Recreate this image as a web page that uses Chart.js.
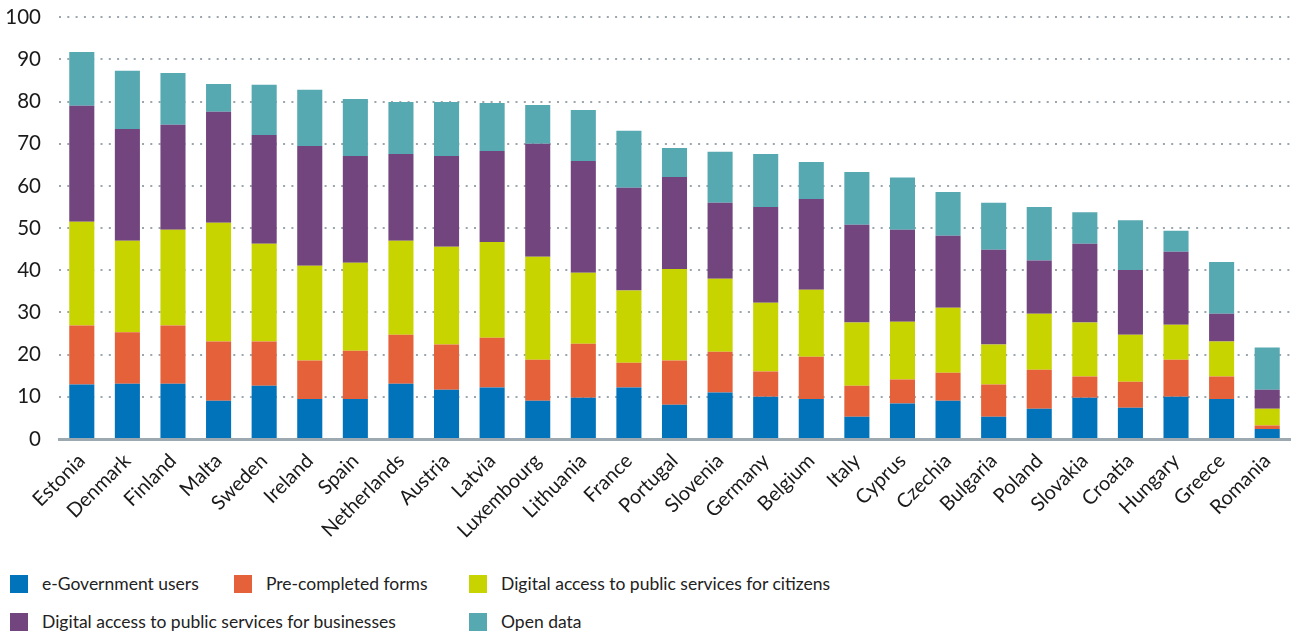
<!DOCTYPE html>
<html>
<head>
<meta charset="utf-8">
<script src="https://cdn.jsdelivr.net/npm/chart.js@4.4.0/dist/chart.umd.min.js"></script>
<style>
    html, body { margin: 0; padding: 0; background: #ffffff; }
    body { width: 1293px; height: 634px; position: relative; overflow: hidden; font-family: Lato, sans-serif; }
    #chart-wrap { position: absolute; left: 0; top: -13px; width: 1293px; height: 565px; }
    #legend { position: absolute; left: 0; top: 573px; width: 1293px; }
    .legend-item { position: absolute; display: flex; align-items: center; font-size: 17.5px; color: #222; white-space: nowrap; }
    .legend-box { width: 18px; height: 18px; margin-right: 14px; }
</style>
</head>
<body>
<div id="chart-wrap"><canvas id="egov-chart"></canvas></div>
<div id="legend"></div>
<script>
const countries = ['Estonia', 'Denmark', 'Finland', 'Malta', 'Sweden', 'Ireland', 'Spain', 'Netherlands', 'Austria',
    'Latvia', 'Luxembourg', 'Lithuania', 'France', 'Portugal', 'Slovenia', 'Germany', 'Belgium', 'Italy', 'Cyprus',
    'Czechia', 'Bulgaria', 'Poland', 'Slovakia', 'Croatia', 'Hungary', 'Greece', 'Romania'];

const egovUsers      = [12.9, 13.1, 13.1, 9.1, 12.6, 9.5, 9.5, 13.1, 11.7, 12.2, 9.1, 9.8, 12.2, 8.1, 11.0, 10.0, 9.5, 5.3, 8.4, 9.1, 5.3, 7.2, 9.8, 7.4, 10.0, 9.5, 2.4];
const precompleted   = [14.0, 12.2, 13.8, 14.0, 10.5, 9.1, 11.4, 11.6, 10.7, 11.8, 9.7, 12.8, 5.9, 10.5, 9.7, 6.0, 10.0, 7.3, 5.7, 6.6, 7.6, 9.2, 5.0, 6.2, 8.8, 5.3, 0.8];
const citizens       = [24.6, 21.7, 22.7, 28.2, 23.2, 22.5, 20.9, 22.3, 23.2, 22.7, 24.4, 16.8, 17.1, 21.7, 17.3, 16.3, 15.9, 15.0, 13.7, 15.4, 9.5, 13.3, 12.8, 11.1, 8.3, 8.3, 4.0];
const businesses     = [27.5, 26.5, 24.9, 26.3, 25.8, 28.4, 25.3, 20.6, 21.5, 21.6, 26.8, 26.5, 24.4, 21.8, 18.0, 22.7, 21.5, 23.2, 21.8, 17.1, 22.5, 12.6, 18.7, 15.4, 17.3, 6.6, 4.5];
const openData       = [12.8, 13.8, 12.3, 6.6, 11.9, 13.3, 13.5, 12.3, 12.8, 11.4, 9.2, 12.1, 13.5, 6.9, 12.1, 12.6, 8.8, 12.5, 12.4, 10.4, 11.1, 12.7, 7.5, 11.8, 5.0, 12.3, 10.0];

const yTicks = [0, 10, 20, 30, 40, 50, 60, 70, 80, 90, 100];

const seriesNames = ['e-Government users', 'Pre-completed forms', 'Digital access to public services for citizens',
    'Digital access to public services for businesses', 'Open data'];
const seriesColors = ['#0073bb', '#e5613a', '#c8d400', '#72457f', '#56a9b0'];

document.addEventListener('DOMContentLoaded', function() {
    initChart();
    buildLegend();
});

function initChart() {
    const ctx = document.getElementById('egov-chart').getContext('2d');
    const allData = [egovUsers, precompleted, citizens, businesses, openData];

    new Chart(ctx, {
        type: 'bar',
        data: {
            labels: countries,
            datasets: allData.map((d, i) => ({
                label: seriesNames[i],
                data: d,
                backgroundColor: seriesColors[i],
                borderWidth: 0,
                barPercentage: 0.55,
                categoryPercentage: 1
            }))
        },
        options: {
            responsive: true,
            maintainAspectRatio: false,
            animation: false,
            layout: {
                padding: { top: 0, right: 3, left: 0, bottom: 0 }
            },
            scales: {
                x: {
                    stacked: true,
                    grid: { display: false },
                    border: { display: true, color: '#9ca9b1', width: 3 },
                    ticks: {
                        color: '#1a1a1a',
                        minRotation: 45,
                        maxRotation: 45,
                        padding: 2,
                        font: { family: 'Lato', size: 20 }
                    },
                    afterFit: function(scale) { scale.height = 113; }
                },
                y: {
                    stacked: true,
                    min: 0,
                    max: 100,
                    afterBuildTicks: function(scale) {
                        scale.ticks = yTicks.map(v => ({ value: v }));
                    },
                    border: { display: false, dash: [2, 6.3] },
                    grid: {
                        color: '#9aa5ae',
                        lineWidth: 2,
                        drawTicks: false
                    },
                    ticks: {
                        color: '#1a1a1a',
                        padding: 18,
                        font: { family: 'Lato', size: 20.5 }
                    },
                    afterFit: function(scale) { scale.width = 59; }
                }
            },
            plugins: {
                legend: { display: false },
                tooltip: { enabled: false }
            }
        }
    });
}

function buildLegend() {
    const legend = document.getElementById('legend');
    const spots = [
        [10, 0], [234, 0], [469, 0],
        [10, 38], [469, 38]
    ];
    seriesNames.forEach((name, i) => {
        const item = document.createElement('div');
        item.className = 'legend-item';
        item.style.left = spots[i][0] + 'px';
        item.style.top = spots[i][1] + 'px';
        item.innerHTML = '<span class="legend-box" style="background:' + seriesColors[i] + '"></span>' + name;
        legend.appendChild(item);
    });
}
</script>
</body>
</html>
